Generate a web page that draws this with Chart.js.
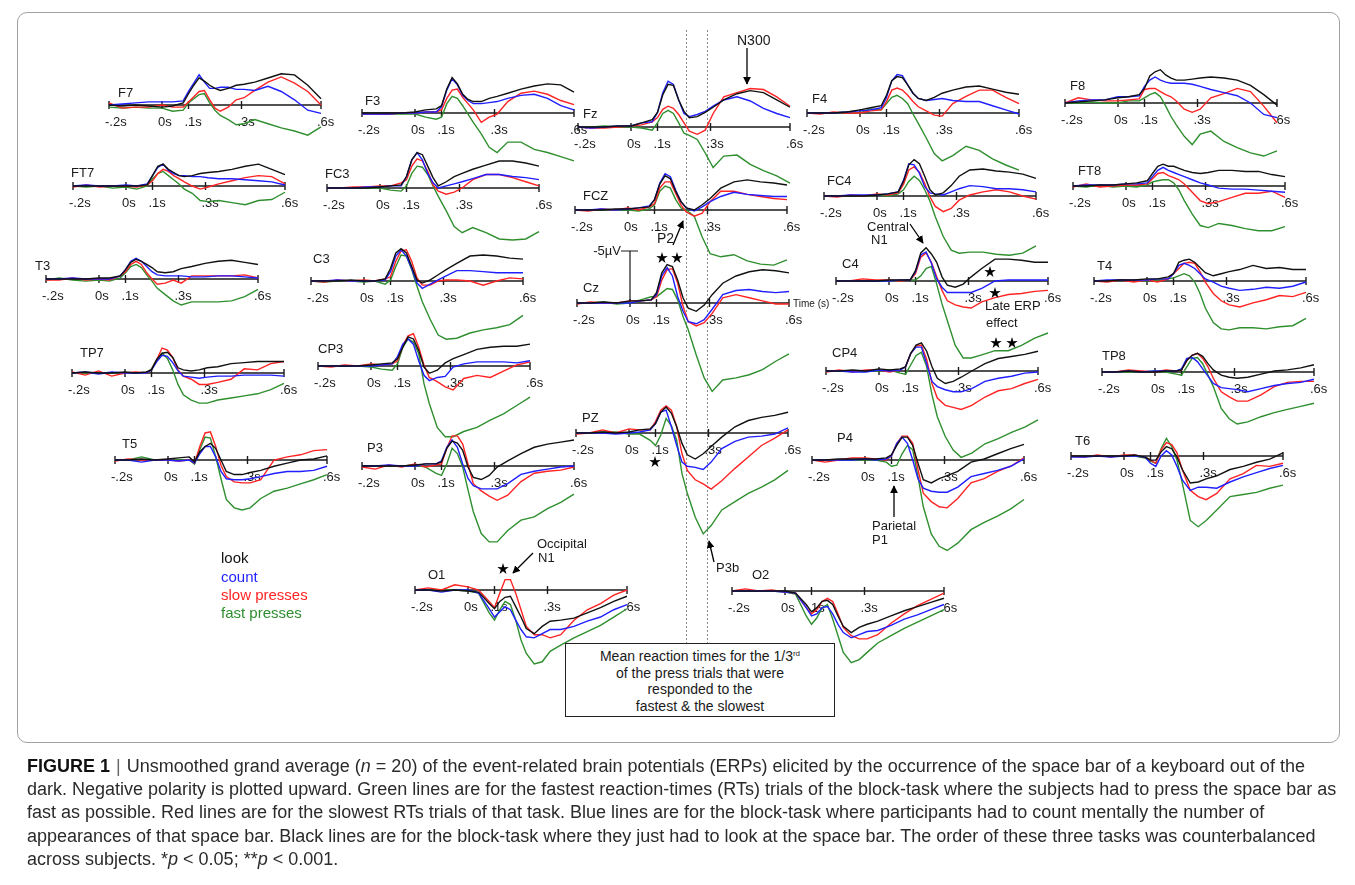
<!DOCTYPE html>
<html lang="en">
<head>
<meta charset="UTF-8" />
<title>ERP grand averages</title>
<script src="https://cdn.jsdelivr.net/npm/chart.js"></script>
<style>
  body { margin: 0; background: #fff; font-family: "Liberation Sans", Arial, sans-serif; color: #1a1a1a; }
  #page { position: relative; width: 1355px; height: 885px; overflow: hidden; background: #fff; }
  #frame { position: absolute; left: 17px; top: 12px; width: 1323px; height: 731px; border: 1px solid #a0a0a0; border-radius: 10px; box-sizing: border-box; }
  canvas { position: absolute; }
  .ch, .note { position: absolute; font-size: 13px; line-height: 13px; white-space: nowrap; transform: translateY(-50%); }
  .legend { position: absolute; left: 221px; font-size: 15px; line-height: 15px; transform: translateY(-50%); }
  #rtbox { position: absolute; left: 565px; top: 643px; width: 270px; height: 74px; border: 1px solid #222; box-sizing: border-box; background: #fff;
           text-align: center; font-size: 14px; line-height: 16.7px; padding-top: 4px; }
  #rtbox sup { font-size: 8px; vertical-align: 5px; line-height: 0; }
  #caption { position: absolute; left: 27px; top: 755px; font-size: 18px; line-height: 23.2px; color: #2b2b2b; white-space: nowrap; }
  #caption .bar { color: #666; padding: 0 6px; }
  svg { position: absolute; left: 0; top: 0; }
</style>
</head>
<body>
<div id="page">
  <div id="frame"></div>
  <div id="plots"></div>

  <div class="legend" style="top:557px;color:#111">look</div>
  <div class="legend" style="top:576px;color:#1f1fff">count</div>
  <div class="legend" style="top:594px;color:#ff2323">slow presses</div>
  <div class="legend" style="top:612px;color:#2f8f2f">fast presses</div>

  <div class="note" style="left:737px;top:40px;font-size:14px">N300</div>
  <div class="note" style="left:657px;top:238px;font-size:14px">P2</div>
  <div class="note" style="left:867px;top:226px">Central</div>
  <div class="note" style="left:871px;top:239px">N1</div>
  <div class="note" style="left:985px;top:305px">Late ERP</div>
  <div class="note" style="left:986px;top:322px">effect</div>
  <div class="note" style="left:872px;top:525px">Parietal</div>
  <div class="note" style="left:872px;top:539px">P1</div>
  <div class="note" style="left:537px;top:543px">Occipital</div>
  <div class="note" style="left:538px;top:557px">N1</div>
  <div class="note" style="left:716px;top:567px">P3b</div>

  <div id="rtbox">Mean reaction times for the 1/3<sup>rd</sup><br>of the press trials that were<br>responded to the<br>fastest &amp; the slowest</div>

  <svg id="notes" width="1355" height="885">
    <defs>
      <marker id="ah" viewBox="0 0 10 10" refX="9" refY="5" markerWidth="6" markerHeight="6" orient="auto">
        <path d="M0,0 L10,5 L0,10 z" fill="#000" />
      </marker>
    </defs>
    <g stroke="#000" stroke-width="1.3" fill="none">
      <line x1="747" y1="48" x2="747" y2="84" marker-end="url(#ah)" />
      <line x1="673" y1="245" x2="683" y2="221" marker-end="url(#ah)" />
      <line x1="910" y1="224" x2="923" y2="243" marker-end="url(#ah)" />
      <line x1="894" y1="517" x2="894" y2="486" marker-end="url(#ah)" />
      <line x1="533" y1="553" x2="513" y2="573" marker-end="url(#ah)" />
      <line x1="714" y1="562" x2="709" y2="541" marker-end="url(#ah)" />
    </g>
    <g id="stars" fill="#000"></g>
  </svg>

  <div id="caption">
    <div><b style="color:#111">FIGURE 1</b><span class="bar">|</span>Unsmoothed grand average (<i>n</i> = 20) of the event-related brain potentials (ERPs) elicited by the occurrence of the space bar of a keyboard out of the</div>
    <div>dark. Negative polarity is plotted upward. Green lines are for the fastest reaction-times (RTs) trials of the block-task where the subjects had to press the space bar as</div>
    <div>fast as possible. Red lines are for the slowest RTs trials of that task. Blue lines are for the block-task where participants had to count mentally the number of</div>
    <div>appearances of that space bar. Black lines are for the block-task where they just had to look at the space bar. The order of these three tasks was counterbalanced</div>
    <div>across subjects. *<i>p</i> &lt; 0.05; **<i>p</i> &lt; 0.001.</div>
  </div>
</div>

<script>
  // time points (s) and grand-average amplitudes (µV, negative = up)
  const times = [-0.2, -0.15, -0.1, -0.05, 0, 0.04, 0.08, 0.1, 0.12, 0.14, 0.16, 0.18, 0.2, 0.22, 0.25, 0.28, 0.31, 0.35, 0.4, 0.45, 0.5, 0.55, 0.6];
  const conditions = ['look', 'count', 'slow presses', 'fast presses'];
  const colors = ['#111111', '#1f1fff', '#ff2323', '#2f8f2f'];
  const tickVals = [-0.2, 0, 0.1, 0.3, 0.6];
  const tickLabels = ['-.2s', '0s', '.1s', '.3s', '.6s'];
  const meanRT = [0.21, 0.29];

  // each channel: [look, count, slow presses, fast presses]
  const F7 = [
    [0,0.1,0,0.1,0.2,0.1,-0.2,-1.1,-1.9,-2.6,-2.3,-1.9,-1.6,-1.4,-1.6,-1.9,-2.0,-2.2,-2.6,-3.0,-2.9,-1.9,-0.6],
    [0,-0.1,-0.2,-0.3,-0.3,-0.3,-0.4,-1.3,-2.1,-2.9,-2.2,-1.6,-1.6,-1.7,-1.7,-1.5,-1.5,-1.4,-1.8,-1.3,-0.5,0.5,0.8],
    [-0.2,0.3,0.2,0.2,0,0.2,0.2,-0.3,-0.8,-1.3,-1.4,-0.5,0.3,0.6,0.2,-0.5,-0.7,-1.4,-2.2,-2.7,-2.1,-1.3,0],
    [0.2,0.3,0.2,0.3,0.3,0.6,0.5,-0.2,-0.6,-1.0,-1.1,-0.2,0.5,1.0,1.4,1.9,1.8,1.4,1.8,2.2,2.5,2.9,2.1]
  ];
  const FT7 = [
    [0,0,0,0,0,0,-0.1,-1.0,-1.9,-2.1,-1.6,-1.3,-1.0,-0.9,-1.0,-1.2,-1.3,-1.4,-1.6,-1.9,-2.1,-1.6,-1.1],
    [0,-0.1,0,0,-0.1,0,-0.2,-1.0,-1.8,-2.1,-1.5,-1.2,-1.0,-1.0,-0.9,-0.9,-0.8,-0.7,-0.7,-0.6,-0.5,-0.4,-0.1],
    [0.1,-0.1,0.1,0,0,0.1,-0.1,-0.5,-1.2,-1.6,-1.4,-1.0,-0.7,-0.4,0,0.3,0.1,-0.2,-0.5,-0.8,-1.0,-0.9,-0.2],
    [0,0.1,0,0.2,0.1,0.3,0,-0.7,-1.2,-1.4,-1.0,-0.6,-0.2,0.3,0.7,1.4,1.5,1.4,1.6,1.8,1.4,1.3,0.6]
  ];
  const T3 = [
    [0,0,0,0,-0.1,-0.1,-0.3,-0.9,-1.6,-1.9,-1.7,-1.4,-1.1,-0.7,-0.6,-0.7,-1.0,-1.2,-1.5,-1.7,-1.8,-1.6,-1.4],
    [0,0,-0.1,0,0,0,-0.3,-0.9,-1.7,-2.0,-1.7,-1.2,-0.7,-0.4,-0.3,-0.3,-0.3,-0.2,-0.2,-0.3,-0.3,-0.2,-0.1],
    [0.1,0.1,-0.1,0.1,0,0.1,-0.3,-0.7,-1.4,-1.7,-1.4,-0.6,0,0.5,0.4,0.1,0.4,-0.3,-0.3,-0.3,-0.3,-0.4,-0.1],
    [0.1,-0.1,0.1,0.2,0.1,0.2,-0.1,-0.6,-1.2,-1.4,-1.1,-0.4,0.2,0.9,1.5,2.1,2.5,2.2,2.2,2.2,2.1,1.7,1.0]
  ];
  const F3 = [
    [0,0,0,0,-0.1,-0.3,-0.4,-0.7,-2.3,-3.4,-2.8,-1.8,-1.3,-1.1,-1.1,-1.4,-1.6,-1.9,-2.3,-2.6,-2.8,-2.7,-2.0],
    [0.1,0.1,0.1,0,0,-0.1,-0.1,-0.6,-2.2,-3.3,-2.7,-1.7,-1.2,-0.9,-0.9,-1.0,-1.1,-1.4,-1.7,-1.8,-1.4,-0.7,-0.3],
    [0.1,0.1,0.1,0,0,-0.1,-0.1,-0.3,-1.4,-2.2,-2.3,-1.5,-0.9,-0.3,0.9,0.4,0.1,-1.1,-1.9,-2.1,-1.8,-1.2,-0.8],
    [0.1,0,0.1,0.1,0.1,0.4,0.6,0.4,-0.9,-1.6,-1.4,-0.7,0.1,0.9,2.0,3.3,3.8,2.8,2.8,3.5,3.8,4.2,4.6]
  ];
  const FC3 = [
    [0,0,0,0,-0.1,-0.2,-0.3,-1.1,-2.7,-3.4,-3.2,-2.1,-1.0,-0.2,-0.6,-1.1,-1.4,-1.8,-2.2,-2.6,-2.6,-2.4,-2.1],
    [0,0,0,-0.1,-0.1,-0.2,-0.2,-1.1,-2.7,-3.4,-2.7,-1.4,-0.5,0,-0.2,-0.4,-0.6,-0.9,-1.3,-1.3,-1.1,-1.0,-0.8],
    [0,0,-0.1,-0.1,-0.2,-0.2,-0.5,-0.8,-2.1,-2.8,-2.6,-1.6,-0.3,0.3,0.6,0.4,0,-0.8,-1.3,-1.3,-1.0,-0.6,-0.2],
    [0,0,0,0,0,0.2,0.3,-0.2,-1.4,-2.1,-2.0,-1.3,-0.2,0.8,2.2,3.7,4.3,3.8,4.3,4.9,5.0,4.9,4.2]
  ];
  const C3 = [
    [0,0,0,-0.1,0,0,-0.2,-1.2,-2.7,-3.1,-2.7,-1.4,-0.1,0.2,-0.1,-0.6,-1.1,-1.7,-2.4,-2.5,-2.4,-2.2,-2.1],
    [0,0,-0.1,0,0,0,-0.1,-0.9,-2.4,-3.0,-2.4,-1.2,0.2,0.7,0.3,-0.1,-0.5,-1.0,-1.0,-0.9,-0.8,-0.8,-0.8],
    [0,0.1,-0.1,0,-0.1,0,-0.2,-0.4,-1.9,-2.9,-3.0,-1.9,-0.3,0.4,0.4,0,-0.1,-0.1,0,0.4,0,-0.3,-0.2],
    [0,0.1,0,0,0.1,0,0.3,-0.1,-1.4,-2.5,-2.4,-1.1,0.5,2.0,3.7,5.2,5.6,5.5,5.0,4.7,4.5,4.2,3.3]
  ];
  const Fz = [
    [0,0,0,-0.1,-0.1,-0.4,-0.7,-1.4,-3.1,-4.1,-4.0,-2.6,-1.5,-0.9,-1.0,-1.4,-1.9,-2.6,-3.2,-3.5,-3.3,-2.6,-1.9],
    [0,0.1,0,-0.1,-0.1,-0.4,-0.5,-1.4,-3.3,-4.4,-4.1,-2.6,-1.3,-1.0,-1.2,-1.5,-2.0,-2.6,-2.9,-2.5,-1.8,-1.3,-0.9],
    [0,0.1,0.1,0,-0.1,-0.2,-0.5,-0.9,-1.7,-2.0,-1.8,-1.2,-0.4,0.4,0.7,0.3,-1.3,-2.9,-3.3,-3.7,-3.6,-2.9,-2.0],
    [0,0,-0.1,0,0,0.1,0.3,-0.4,-1.3,-1.6,-1.3,-0.4,0.6,0.8,1.2,2.5,3.9,2.8,2.7,3.6,4.2,4.7,5.4]
  ];
  const FCZ = [
    [0,0,0,-0.1,-0.1,-0.2,-0.3,-1.0,-2.5,-3.3,-3.0,-1.8,-0.8,-0.2,0,-0.5,-1.1,-2.1,-2.7,-2.9,-2.7,-2.6,-2.4],
    [0,0,-0.1,0,-0.1,-0.2,-0.4,-1.0,-2.6,-3.5,-3.2,-1.9,-0.8,-0.2,0.1,-0.3,-0.8,-1.3,-1.7,-1.5,-1.4,-1.3,-1.3],
    [0,0.1,-0.1,0,-0.2,0,-0.3,-0.6,-2.1,-2.7,-2.7,-1.6,-0.5,0.2,0.6,0.3,-0.8,-1.8,-1.8,-1.5,-1.3,-1.1,-1.0],
    [0,0,0,0,0,0.1,-0.1,-0.5,-1.8,-2.3,-2.1,-1.0,-0.2,0,0.6,2.6,4.2,4.5,4.3,4.9,5.2,5.3,4.8]
  ];
  const Cz = [
    [0,0,-0.1,0,-0.2,-0.2,-0.3,-1.0,-2.9,-3.7,-3.5,-2.2,-0.5,0.5,0.8,0.2,-0.8,-1.9,-2.6,-3.0,-3.2,-3.1,-2.9],
    [0,0,0,0,0,-0.2,-0.3,-0.8,-2.6,-3.4,-2.6,-0.6,0.8,1.8,2.0,1.6,0.6,-0.8,-1.2,-1.3,-1.1,-1.0,-1.1],
    [0.1,-0.1,0,0,-0.2,-0.2,-0.3,-0.6,-2.2,-3.2,-3.3,-1.9,0.3,1.8,2.2,1.9,1.0,-0.5,-0.8,-0.5,-0.2,0.1,0.1],
    [0,0,-0.1,0.1,0,-0.3,-0.6,-0.6,-1.0,-1.4,-1.3,-0.3,1.3,2.6,5.0,7.2,8.5,7.4,7.2,6.9,6.4,5.6,4.9]
  ];
  const PZ = [
    [0,0,-0.1,0,-0.1,-0.3,-0.4,-0.9,-2.0,-2.5,-1.9,-0.6,1.0,2.1,2.5,2.0,1.3,0.4,-0.6,-1.2,-1.5,-1.7,-2.0],
    [0,0,0,0.1,0,-0.1,-0.3,-0.9,-2.0,-2.2,-0.6,1.2,2.8,3.2,3.3,3.5,2.8,1.5,0.8,0.4,0.3,0.1,-0.5],
    [0.1,0,-0.3,0,-0.4,-0.3,-0.3,-1.1,-2.2,-2.6,-2.2,-0.6,2.0,3.6,4.5,4.9,5.4,4.6,3.4,2.3,1.2,0.5,-0.3],
    [0,0,-0.1,-0.1,0.1,0.1,0.7,1.2,0.2,-1.4,-0.7,0.7,3.9,5.8,8.1,9.7,8.9,7.4,6.6,5.8,5.2,4.5,3.6]
  ];
  const F4 = [
    [0,0,0,-0.1,-0.3,-0.5,-0.7,-1.7,-3.1,-3.5,-3.4,-2.7,-1.9,-1.4,-1.2,-1.5,-1.9,-2.2,-2.5,-2.6,-2.3,-2.0,-1.8],
    [0,0,0,-0.1,-0.2,-0.3,-0.5,-1.5,-3.1,-3.7,-3.6,-2.7,-1.9,-1.4,-1.2,-1.3,-1.4,-1.2,-1.1,-1.1,-0.7,-0.3,0.1],
    [0,0.1,-0.1,0,0,-0.2,-0.3,-1.1,-2.2,-2.4,-2.2,-1.7,-1.1,-0.6,-0.2,0.2,0.3,-0.9,-1.6,-2.2,-2.2,-1.5,-0.9],
    [0,0,0,-0.1,0,-0.4,-0.3,-0.9,-1.5,-1.7,-1.4,-0.9,0.1,1.0,2.4,3.9,4.6,4.1,3.2,3.6,4.4,5.0,5.5]
  ];
  const FC4 = [
    [0,0,0,0,-0.1,-0.2,-0.4,-1.4,-3.0,-3.5,-3.1,-1.9,-0.6,-0.1,-0.3,-1.0,-1.9,-2.5,-2.6,-2.4,-2.3,-2.1,-1.7],
    [0,0,-0.1,-0.1,-0.1,-0.2,-0.4,-1.5,-3.1,-3.0,-2.2,-0.9,-0.3,-0.2,-0.1,-0.4,-0.7,-1.0,-0.9,-0.7,-0.7,-0.6,-0.4],
    [0,0.1,-0.1,0,-0.2,-0.1,-0.3,-1.1,-2.5,-2.8,-2.3,-1.2,0.1,1.0,1.5,1.2,0.4,-0.1,-0.4,-0.6,-0.4,0,0.3],
    [0,0,0,0,-0.1,0,-0.2,-0.6,-1.4,-1.9,-1.5,-0.6,0.5,2.0,3.9,5.2,5.5,5.4,5.4,5.6,5.7,5.5,4.8]
  ];
  const C4 = [
    [0,0,0,0,-0.1,-0.1,-0.1,-1.0,-2.7,-3.2,-2.6,-1.8,-0.4,0.4,0.6,0.3,-0.4,-1.2,-2.1,-2.1,-2.0,-1.8,-1.8],
    [0,0,0,0,0,-0.1,-0.1,-0.9,-2.5,-2.8,-1.7,-0.2,0.6,1.1,1.1,1.1,1.1,0.7,0,-0.1,-0.1,-0.1,-0.1],
    [0,0,-0.2,-0.1,-0.1,0,-0.1,-0.7,-2.3,-2.7,-1.8,-0.4,0.9,1.9,2.3,2.5,2.6,2.0,1.6,1.3,1.2,1.0,0.9],
    [0,0,0,0,0,0,-0.1,-0.1,-0.5,-1.2,-1.4,0.3,2.2,3.8,6.2,7.4,7.4,7.1,6.7,6.7,6.2,5.5,5.0]
  ];
  const F8 = [
    [0,-0.1,-0.2,-0.3,-0.5,-0.6,-0.8,-1.4,-2.6,-3.0,-3.2,-2.7,-2.4,-2.2,-2.2,-2.3,-2.4,-2.5,-2.4,-2.2,-1.7,-0.8,0.2],
    [0,-0.2,-0.3,-0.3,-0.6,-0.6,-0.7,-1.6,-2.2,-2.5,-2.2,-2.0,-1.9,-1.9,-1.9,-1.8,-1.6,-1.3,-1.0,-0.7,0,1.1,1.4],
    [0,-0.5,-0.3,-0.2,-0.2,-0.3,-0.4,-1.3,-1.4,-1.4,-1.1,-0.8,-0.6,-0.2,0.6,0.9,0.6,-0.5,-0.9,-1.4,-1.1,0.3,1.9],
    [0,0,-0.1,0,0,-0.2,-0.2,-0.5,-0.8,-1.0,-0.6,0.3,1.3,2.1,3.2,4.0,3.0,2.7,3.7,4.3,4.8,5.1,4.6]
  ];
  const FT8 = [
    [0,0,-0.1,-0.1,-0.2,-0.3,-0.5,-1.2,-1.9,-2.1,-1.9,-1.9,-1.7,-1.5,-1.3,-1.2,-1.3,-1.5,-1.5,-1.4,-1.4,-1.1,-0.9],
    [0,-0.1,-0.1,-0.1,-0.2,-0.2,-0.3,-0.9,-1.5,-1.8,-1.5,-1.3,-1.1,-0.9,-0.6,-0.3,-0.1,0.2,0.3,0.3,0.4,0.5,0.6],
    [0.1,-0.2,0.1,0,-0.1,-0.1,-0.2,-0.7,-1.2,-1.3,-1.0,-0.8,-0.6,-0.2,0.6,1.4,1.7,1.5,1.1,0.7,0.7,0.5,1.1],
    [0,0.1,-0.1,0.1,0,0.1,-0.1,-0.4,-0.5,-0.6,-0.6,-0.3,0.4,1.4,2.7,3.8,4.0,3.6,3.8,4.1,4.3,4.3,3.9]
  ];
  const T4 = [
    [0,0,-0.1,-0.1,-0.2,-0.2,-0.4,-0.7,-1.8,-2.0,-2.1,-1.8,-1.3,-0.8,-0.5,-0.7,-0.9,-1.1,-1.5,-1.2,-1.3,-1.1,-1.1],
    [0,-0.1,-0.1,-0.1,-0.1,-0.2,-0.2,-0.7,-1.5,-1.7,-1.5,-1.2,-0.7,-0.2,0.1,0.5,0.7,0.9,0.8,0.6,0.7,0.5,0.1],
    [0,0.1,-0.1,0.1,-0.1,0.1,-0.2,-0.7,-1.2,-1.7,-1.8,-1.7,-0.9,0.1,1.2,1.9,2.3,2.5,2.1,1.8,1.4,1.5,1.1],
    [0,0,-0.1,0,0,-0.1,-0.2,-0.3,-0.5,-0.7,-0.5,0.1,1.2,2.6,4.0,4.6,4.7,4.5,4.5,4.6,4.4,4.3,3.6]
  ];
  const TP7 = [
    [0,-0.1,0,0,-0.1,0,-0.1,-0.3,-1.3,-1.9,-2.0,-1.5,-0.5,-0.3,-0.2,-0.3,-0.5,-0.6,-0.9,-1.0,-1.1,-1.1,-1.1],
    [0,-0.1,0.1,-0.1,0,0,0,-0.3,-1.1,-1.7,-1.6,-1.0,-0.2,0.3,0.4,0.5,0.4,0.3,0.3,0.2,0.2,0.2,0.3],
    [-0.1,0.2,-0.2,0.3,0,-0.1,0,-0.3,-1.3,-2.4,-2.2,-1.5,-0.3,0.3,0.6,1.1,1.1,0.9,0.6,-0.4,-0.3,-0.9,-1.1],
    [0,0,0,0,0,0,0,-0.4,-1.3,-1.9,-1.4,-0.3,1.1,2.1,2.6,2.9,2.9,2.6,2.4,2.2,2.0,1.6,1.0]
  ];
  const T5 = [
    [0,0,-0.1,0,-0.1,-0.2,-0.3,0.2,-0.8,-1.3,-1.6,-1.1,0,1.1,1.4,1.4,1.2,1.0,0.6,0.3,0,-0.1,-0.4],
    [0,0,0.2,0,0,0.1,0,0.3,-0.6,-1.3,-1.3,-0.3,1.1,1.8,1.9,1.9,1.8,1.6,1.3,1.1,1.1,1.0,0.6],
    [0.1,-0.1,0,0,0,0.1,0,0.3,-1.3,-2.6,-2.7,-1.3,0.5,1.6,2.1,2.2,2.2,1.9,0,-0.3,-0.5,-0.9,-1.0],
    [0,0,-0.3,0,0,0,0,0.4,-1.0,-2.2,-2.1,-0.3,1.8,3.8,4.6,4.8,4.6,3.7,3.0,2.7,2.3,1.9,1.4]
  ];
  const CP3 = [
    [0,0,0,0,-0.1,-0.2,-0.3,-0.7,-1.8,-2.8,-2.6,-1.5,0.1,0.7,0.4,-0.3,-0.7,-1.1,-1.6,-1.8,-1.9,-1.9,-2.1],
    [0,0,0,0,0,-0.1,-0.2,-0.9,-2.1,-2.6,-2.1,-0.5,0.9,1.4,1.1,1.0,0.1,-0.2,-0.4,-0.4,-0.4,-0.3,-0.5],
    [0,0.1,-0.1,0,-0.2,-0.1,-0.2,-0.5,-2.0,-2.9,-3.1,-1.8,-0.1,1.1,1.5,2.0,2.3,1.2,0.9,1.1,0.5,-0.1,-0.4],
    [0,0,0,0,0.1,0.3,0.4,-0.2,-1.8,-2.6,-2.3,-1.2,1.7,3.6,5.9,6.8,6.8,6.3,5.9,5.2,4.6,3.8,3.0]
  ];
  const P3 = [
    [0,0,0,0,-0.1,-0.2,-0.2,-0.4,-1.7,-2.4,-2.2,-1.5,0.1,1.1,1.3,0.9,0.1,-0.5,-1.2,-1.8,-2.1,-2.3,-2.5],
    [0,0,-0.1,0,0,-0.2,-0.2,-0.5,-1.8,-2.5,-1.8,-0.2,1.2,1.9,2.2,2.2,2.2,1.7,0.8,0.5,0.3,0.1,0],
    [0.1,0.3,-0.1,0.1,-0.2,0.1,-0.1,-0.2,-1.7,-2.9,-2.9,-2.1,-0.2,1.7,2.4,2.9,3.3,2.8,1.5,0.7,0.5,0.4,0.1],
    [0,0,0,0,-0.1,0.1,0.7,0.9,-0.2,-1.7,-1.2,0.1,2.3,4.4,6.5,7.3,7.3,6.2,5.2,4.9,4.1,3.5,2.7]
  ];
  const CP4 = [
    [0,0,-0.1,0,-0.2,-0.1,-0.2,-0.4,-1.7,-2.5,-2.7,-1.9,-0.4,0.7,1.2,1.0,0.6,0,-0.7,-1.2,-1.4,-1.6,-1.9],
    [0,0,0.1,0.1,-0.1,0,-0.1,-0.4,-1.7,-2.3,-2.3,-0.7,1.0,1.5,1.8,2.0,2.0,1.7,1.0,0.7,0.5,0.2,0.1],
    [0.1,-0.1,0.1,-0.1,-0.1,0.1,-0.1,-0.4,-1.7,-2.4,-2.5,-1.1,1.2,2.6,3.3,3.5,3.7,3.3,2.5,1.9,1.7,1.2,0.8],
    [0,0,0,0,0,-0.1,0.2,0.3,-0.6,-1.5,-1.8,-0.4,2.3,4.4,6.3,7.6,8.3,7.9,7.0,6.5,5.9,5.4,4.7]
  ];
  const P4 = [
    [0,0,-0.1,-0.1,-0.1,-0.1,-0.2,-0.5,-1.4,-2.2,-2.2,-1.4,0.3,1.9,2.2,1.8,1.5,1.1,0.2,-0.1,-0.6,-1.1,-1.5],
    [0,0,0,0,-0.1,0,-0.1,-0.4,-1.6,-2.2,-1.6,0,1.8,2.7,3.0,3.1,3.1,2.6,1.6,1.3,1.0,0.6,-0.1],
    [0,0.2,0,-0.2,-0.2,-0.1,0,-0.4,-1.6,-2.3,-2.3,-1.6,0.9,3.2,4.0,4.5,4.6,3.7,2.2,1.8,1.1,0.6,-0.2],
    [0,0,0,0,0,0,0.2,0.6,0.5,-0.6,-1.4,-1.0,1.6,4.5,7.1,8.3,8.7,8.0,6.7,6.0,5.4,4.7,3.8]
  ];
  const TP8 = [
    [0,0,-0.1,0,0,-0.1,-0.1,-0.2,-1.1,-1.6,-1.8,-1.5,-0.8,-0.2,0.3,0.5,0.6,0.5,0.2,-0.1,-0.2,-0.4,-0.7],
    [0,0,-0.1,0,-0.1,-0.1,-0.1,-0.3,-1.3,-1.4,-1.0,-0.3,0.4,1.1,1.5,1.6,1.7,1.9,1.6,1.3,1.1,1.0,0.7],
    [0,0,-0.2,-0.1,0,-0.2,-0.1,-0.2,-1.1,-1.6,-1.8,-1.3,-0.5,0.6,1.9,2.4,2.8,2.8,2.2,1.4,1.0,0.9,0.9],
    [0,0,0,0,-0.1,0,0.2,0.3,-0.5,-1.3,-1.4,-0.8,0.3,1.4,3.5,4.5,5.0,4.8,4.3,3.9,3.6,3.3,3.0]
  ];
  const T6 = [
    [0,0,0,0,0,-0.1,0.1,0.4,0.4,-0.4,-0.9,-0.7,0.1,1.3,2.6,2.5,2.2,1.9,1.3,1.0,0.6,0.3,-0.3],
    [0.1,0.1,0,0.1,0,0,0.1,0.7,1.0,0,-0.5,-0.1,1.0,2.3,3.3,3.0,3.0,3.1,2.5,2.0,1.6,1.2,0.9],
    [0,0.1,-0.1,0.1,-0.1,-0.1,0.1,0.4,0.7,-0.6,-1.3,-1.1,-0.3,1.3,3.3,3.9,4.2,3.6,2.2,1.7,0.9,1.0,0.7],
    [0,0,0,0,0,0,0.2,0.5,0.7,-0.7,-1.7,-0.9,0.4,2.6,6.2,6.8,6.2,5.2,3.9,3.7,3.5,3.1,2.8]
  ];
  const O1 = [
    [0,0,0.1,0,0.1,0.2,1.3,1.8,1.1,0.7,0.6,1.6,2.6,3.7,4.2,3.5,3.0,2.9,2.7,2.2,1.7,1.1,0.6],
    [0,0,0.2,0,0,0.3,1.8,2.6,2.1,1.6,1.9,2.9,3.8,4.5,4.6,4.2,3.8,3.8,3.5,3.0,2.6,1.9,1.4],
    [0,-0.2,0,-0.5,-0.3,0,1.1,1.7,0.3,-1.0,-1.0,0.3,1.9,3.5,4.3,4.3,4.6,4.3,2.9,1.9,1.3,0.5,0],
    [0,0,0,0,0.1,0.3,2.2,2.9,1.9,1.1,1.4,2.9,4.8,6.1,7.1,6.9,5.9,5.3,4.6,4.0,3.4,2.6,1.8]
  ];
  const O2 = [
    [0,0,0,0,0,0.2,1.3,2.0,1.6,1.0,0.9,1.3,2.4,3.4,4.0,3.5,3.2,2.9,2.4,1.9,1.5,1.1,0.7],
    [0,0,0,0,0.1,0.2,1.6,2.4,2.2,1.6,1.5,2.2,3.2,4.0,4.5,4.2,3.9,3.8,3.3,2.7,2.3,1.8,1.3],
    [0,-0.2,0,-0.1,0.1,0.2,1.6,2.2,1.8,1.0,0.7,1.0,2.2,3.5,4.3,4.6,4.6,4.2,3.1,2.2,1.4,0.8,0.2],
    [0,0,0,0,0.1,0.3,2.4,3.2,2.6,1.6,1.3,2.7,4.3,5.9,6.9,6.6,5.9,5.0,4.3,3.6,3.0,2.4,1.8]
  ];

  // panel placement on the page: name, series, axis start x, axis y, label x, label y
  const panels = [
    ['F7', F7, 109, 105, 118, 92],   ['FT7', FT7, 73, 186, 71, 172],  ['T3', T3, 46, 279, 35, 265],
    ['F3', F3, 362, 113, 365, 100],  ['FC3', FC3, 327, 188, 325, 173], ['C3', C3, 311, 281, 313, 258],
    ['Fz', Fz, 578, 127, 583, 113],  ['FCZ', FCZ, 575, 210, 583, 195], ['Cz', Cz, 577, 303, 583, 287],
    ['F4', F4, 807, 113, 812, 98],   ['FC4', FC4, 824, 196, 827, 180], ['C4', C4, 836, 281, 842, 263],
    ['F8', F8, 1065, 103, 1070, 85], ['FT8', FT8, 1073, 186, 1078, 170], ['T4', T4, 1094, 281, 1097, 265],
    ['TP7', TP7, 72, 373, 80, 352],  ['T5', T5, 115, 460, 122, 443],
    ['CP3', CP3, 318, 366, 318, 348], ['P3', P3, 362, 466, 367, 447],
    ['PZ', PZ, 576, 433, 582, 417],
    ['CP4', CP4, 826, 371, 832, 352], ['P4', P4, 812, 460, 837, 437],
    ['TP8', TP8, 1102, 372, 1102, 355], ['T6', T6, 1071, 456, 1075, 440],
    ['O1', O1, 415, 590, 428, 574],  ['O2', O2, 732, 591, 752, 574]
  ];

  const PX_PER_UV = 10.4;   // the 5 µV bar in Cz is 52 px
  const AXIS_W = 212;       // -0.2 s .. 0.6 s
  const PAD_L = 45, PAD_R = 50;
  const FONT = '"Liberation Sans", Arial, sans-serif';

  const erpAxis = {
    id: 'erpAxis',
    beforeDatasetsDraw(chart, args, opts) {
      const ctx = chart.ctx, xs = chart.scales.x, ys = chart.scales.y;
      const y0 = ys.getPixelForValue(0);
      ctx.save();
      if (opts.guides) {
        ctx.strokeStyle = '#8a8a8a';
        ctx.lineWidth = 1;
        ctx.setLineDash([2, 2]);
        opts.guides.forEach(t => {
          const x = Math.round(xs.getPixelForValue(t)) + 0.5;
          ctx.beginPath();
          ctx.moveTo(x, chart.chartArea.top);
          ctx.lineTo(x, chart.chartArea.bottom);
          ctx.stroke();
        });
        ctx.restore();
        return;
      }
      ctx.strokeStyle = '#1a1a1a';
      ctx.lineWidth = 1.4;
      ctx.beginPath();
      ctx.moveTo(xs.getPixelForValue(-0.2), y0);
      ctx.lineTo(xs.getPixelForValue(0.6), y0);
      tickVals.forEach(t => {
        const x = xs.getPixelForValue(t);
        ctx.moveTo(x, y0 - 4);
        ctx.lineTo(x, y0 + 4);
      });
      ctx.stroke();
      ctx.fillStyle = '#1a1a1a';
      ctx.font = '13px ' + FONT;
      ctx.textBaseline = 'middle';
      ctx.textAlign = 'left';
      tickVals.forEach((t, i) => ctx.fillText(tickLabels[i], xs.getPixelForValue(t) - 4, y0 + 17));

      if (opts.scaleBar) {
        // -5 µV calibration bar at t = 0
        const x = xs.getPixelForValue(0), yTop = ys.getPixelForValue(-5);
        ctx.beginPath();
        ctx.lineWidth = 1.2;
        ctx.moveTo(x, y0);
        ctx.lineTo(x, yTop);
        ctx.moveTo(x - 9, yTop);
        ctx.lineTo(x + 8, yTop);
        ctx.stroke();
        ctx.textAlign = 'right';
        ctx.fillText('-5\u00b5V', x - 9, yTop);
        ctx.font = '10px ' + FONT;
        ctx.textAlign = 'left';
        ctx.fillText('Time (s)', xs.getPixelForValue(0.6) + 4, y0 + 1);
      }
      ctx.restore();
    }
  };

  function makeChart(x0, axisY, above, below, datasets, extra) {
    const canvas = document.createElement('canvas');
    canvas.width = PAD_L + AXIS_W + PAD_R;
    canvas.height = above + below;
    canvas.style.left = (x0 - PAD_L) + 'px';
    canvas.style.top = (axisY - above) + 'px';
    canvas.style.width = canvas.width + 'px';
    canvas.style.height = canvas.height + 'px';
    document.getElementById('plots').appendChild(canvas);
    return new Chart(canvas, {
      type: 'line',
      data: { datasets: datasets },
      options: {
        responsive: false,
        animation: false,
        events: [],
        layout: { padding: { left: PAD_L, right: PAD_R, top: 0, bottom: 0 } },
        plugins: { legend: { display: false }, tooltip: { enabled: false }, erpAxis: extra || {} },
        scales: {
          x: { type: 'linear', min: -0.2, max: 0.6, display: false },
          y: { type: 'linear', min: -above / PX_PER_UV, max: below / PX_PER_UV, reverse: true, display: false }
        },
        elements: { point: { radius: 0 }, line: { borderWidth: 1.4, tension: 0 } }
      },
      plugins: [erpAxis]
    });
  }

  // dotted guides for the mean RTs, spanning the central column (same time scale as Cz)
  makeChart(577, 303, 273, 340, [], { guides: meanRT });

  panels.forEach(([name, series, x0, axisY, lx, ly]) => {
    const datasets = series.map((vals, k) => ({
      label: conditions[k],
      data: times.map((t, i) => ({ x: t, y: vals[i] })),
      borderColor: colors[k],
      clip: false
    }));
    makeChart(x0, axisY, 62, 118, datasets, { scaleBar: name === 'Cz' });

    const lab = document.createElement('div');
    lab.className = 'ch';
    lab.textContent = name;
    lab.style.left = lx + 'px';
    lab.style.top = ly + 'px';
    document.getElementById('page').appendChild(lab);
  });

  // significance stars
  function star(cx, cy, r) {
    const pts = [];
    for (let i = 0; i < 10; i++) {
      const a = -Math.PI / 2 + i * Math.PI / 5;
      const rr = i % 2 ? r * 0.38 : r;
      pts.push((cx + rr * Math.cos(a)).toFixed(1) + ',' + (cy + rr * Math.sin(a)).toFixed(1));
    }
    const p = document.createElementNS('http://www.w3.org/2000/svg', 'polygon');
    p.setAttribute('points', pts.join(' '));
    document.getElementById('stars').appendChild(p);
  }
  [[662, 258], [677, 258], [990, 272], [995, 293], [996, 343], [1012, 343], [655, 462], [503, 569]]
    .forEach(([x, y]) => star(x, y, 6));
</script>
</body>
</html>
